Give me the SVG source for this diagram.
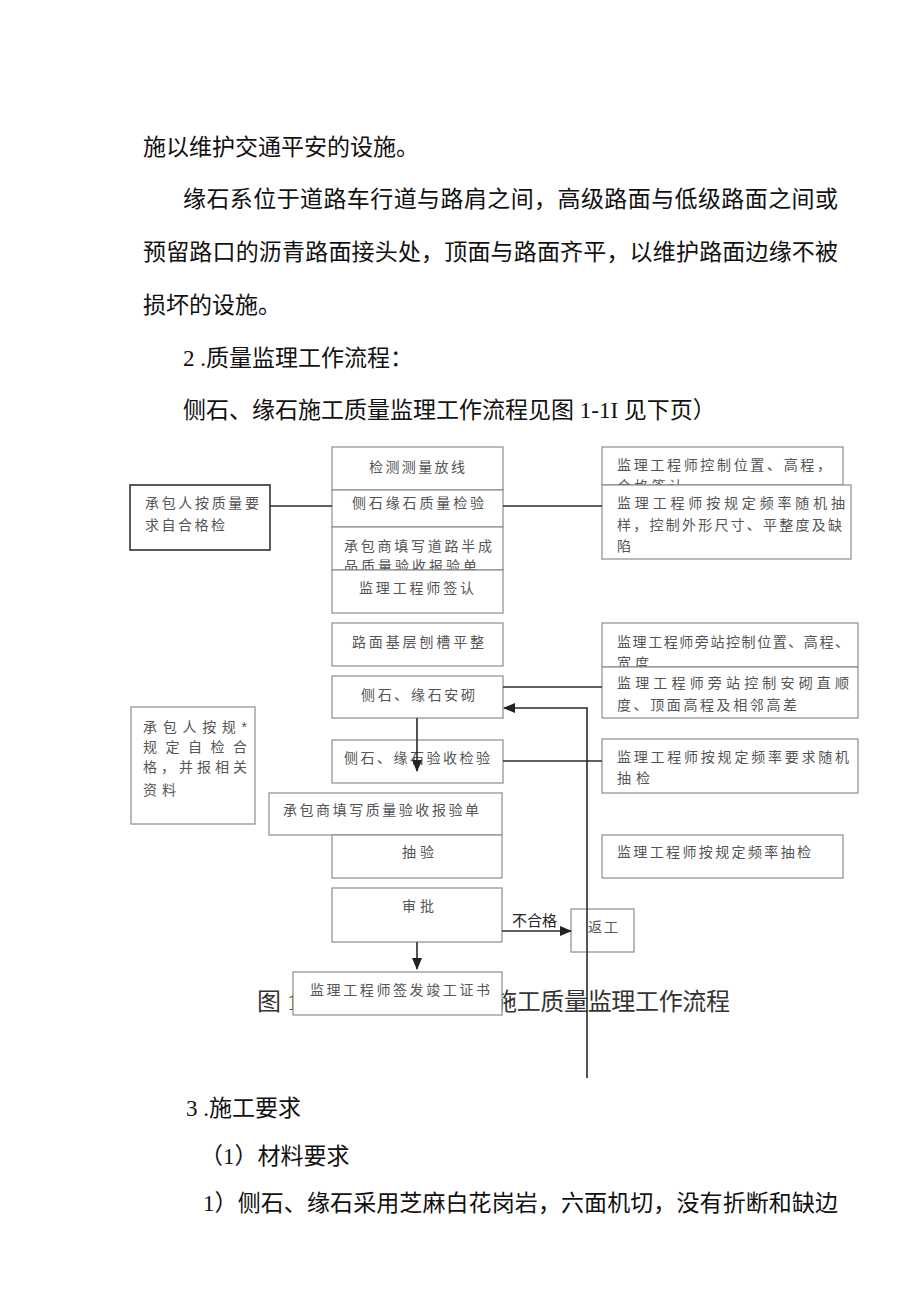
<svg xmlns="http://www.w3.org/2000/svg" width="920" height="1301" viewBox="0 0 920 1301">
<style>
.body{font-family:"Liberation Serif","Noto Sans CJK SC",serif;font-size:23px;fill:#111}
.box{fill:#fff;stroke:#8c8c8c;stroke-width:1.2}
.boxd{fill:#fff;stroke:#333;stroke-width:1.6}
.t{font-family:"Liberation Sans","Noto Sans CJK SC",sans-serif;font-size:14px;fill:#555}
.ln{stroke:#2a2a2a;stroke-width:1.6;fill:none}
.cap{font-family:"Liberation Serif","Noto Sans CJK SC",serif;font-size:24px;fill:#333}
.lbl{font-family:"Liberation Sans","Noto Sans CJK SC",sans-serif;font-size:15px;fill:#222}
</style>
<defs>
<marker id="ah" markerUnits="userSpaceOnUse" markerWidth="12" markerHeight="10" refX="11" refY="5" orient="auto">
<path d="M0,0 L12,5 L0,10 Z" fill="#222"/>
</marker>
</defs>
<rect width="920" height="1301" fill="#fff"/>

<g id="bodytext">
<text class="body" x="143" y="155">施以维护交通平安的设施。</text>
<text class="body" x="183" y="207" textLength="655" lengthAdjust="spacing">缘石系位于道路车行道与路肩之间，高级路面与低级路面之间或</text>
<text class="body" x="143" y="260" textLength="695" lengthAdjust="spacing">预留路口的沥青路面接头处，顶面与路面齐平，以维护路面边缘不被</text>
<text class="body" x="143" y="313">损坏的设施。</text>
<text class="body" x="183" y="366">2 .质量监理工作流程：</text>
<text class="body" x="183" y="418">侧石、缘石施工质量监理工作流程见图 1-1I 见下页）</text>
<text class="body" x="186" y="1116">3 .施工要求</text>
<text class="body" x="200" y="1164">（1）材料要求</text>
<text class="body" x="203" y="1211" textLength="635" lengthAdjust="spacing">1）侧石、缘石采用芝麻白花岗岩，六面机切，没有折断和缺边</text>
</g>

<g id="n1"><rect class="box" x="332" y="447" width="171" height="43"/><text class="t" x="369" y="472" textLength="96">检测测量放线</text></g>
<g id="n2"><rect class="box" x="332" y="490" width="171" height="37"/><text class="t" x="352" y="508" textLength="132">侧石缘石质量检验</text></g>
<g id="n3"><rect class="box" x="332" y="527" width="171" height="43"/><text class="t" x="344" y="551" textLength="148">承包商填写道路半成</text><text class="t" x="344" y="571" textLength="140">品质量验收报验单.</text></g>
<g id="n4"><rect class="box" x="332" y="570" width="171" height="43"/><text class="t" x="359" y="593" textLength="115">监理工程师签认</text></g>

<g id="r1"><rect class="box" x="602" y="447" width="241" height="38"/><text class="t" x="617" y="470" textLength="214">监理工程师控制位置、高程，</text><text class="t" x="617" y="491" textLength="66">合格签认</text></g>
<g id="r2"><rect class="box" x="602" y="485" width="249" height="74"/><text class="t" x="617" y="508" textLength="228">监理工程师按规定频率随机抽</text><text class="t" x="617" y="530" textLength="225">样，控制外形尺寸、平整度及缺</text><text class="t" x="617" y="551">陷</text></g>

<g id="L1"><rect class="boxd" x="130" y="485" width="140" height="65"/><text class="t" x="145" y="508" textLength="114">承包人按质量要</text><text class="t" x="145" y="530" textLength="80">求自合格检</text></g>

<g id="n5"><rect class="box" x="332" y="623" width="171" height="43"/><text class="t" x="352" y="647" textLength="132">路面基层刨槽平整</text></g>
<g id="n6"><rect class="box" x="332" y="676" width="171" height="42"/><text class="t" x="361" y="700" textLength="114">侧石、缘石安砌</text></g>
<g id="n7"><rect class="box" x="332" y="740" width="171" height="43"/><text class="t" x="344" y="763" textLength="146">侧石、缘石验收检验</text></g>

<g id="r3"><rect class="box" x="602" y="623" width="256" height="44"/><text class="t" x="617" y="647" textLength="232">监理工程师旁站控制位置、高程、</text><text class="t" x="617" y="668" textLength="32">宽度</text></g>
<g id="r4"><rect class="box" x="602" y="667" width="256" height="51"/><text class="t" x="617" y="688" textLength="232">监理工程师旁站控制安砌直顺</text><text class="t" x="617" y="710" textLength="180">度、顶面高程及相邻高差</text></g>
<g id="r5"><rect class="box" x="602" y="739" width="256" height="54"/><text class="t" x="617" y="762" textLength="232">监理工程师按规定频率要求随机</text><text class="t" x="617" y="783" textLength="33">抽检</text></g>

<g id="L2"><rect class="box" x="131" y="707" width="124" height="117"/><text class="t" x="143" y="732" textLength="104">承包人按规*</text><text class="t" x="143" y="752" textLength="104">规定自检合</text><text class="t" x="143" y="772" textLength="104">格，并报相关</text><text class="t" x="143" y="795" textLength="33">资料</text></g>

<g id="n8"><rect class="box" x="269" y="793" width="233" height="42"/><text class="t" x="283" y="815" textLength="196">承包商填写质量验收报验单</text></g>
<g id="n9"><rect class="box" x="332" y="835" width="170" height="43"/><text class="t" x="402" y="857" textLength="32">抽验</text></g>
<g id="r6"><rect class="box" x="602" y="835" width="241" height="43"/><text class="t" x="617" y="857" textLength="194">监理工程师按规定频率抽检</text></g>
<g id="n10"><rect class="box" x="332" y="888" width="170" height="54"/><text class="t" x="402" y="911" textLength="32">审批</text></g>
<g id="n11"><rect class="box" x="571" y="909" width="63" height="43"/><text class="t" x="588" y="932" textLength="30">返工</text></g>

<g id="caption">
<text class="cap" x="257" y="1010">图 1</text>
<text class="cap" x="493" y="1010" textLength="237" lengthAdjust="spacing">施工质量监理工作流程</text>
</g>
<g id="n12"><rect class="box" x="293" y="972" width="209" height="43"/><text class="t" x="310" y="995" textLength="180">监理工程师签发竣工证书</text></g>

<g id="connectors">
<line class="ln" x1="270" y1="506" x2="332" y2="506"/>
<line class="ln" x1="503" y1="506" x2="602" y2="506"/>
<line class="ln" x1="503" y1="687" x2="602" y2="687"/>
<polyline class="ln" points="587,1078 587,708 504,708" marker-end="url(#ah)"/>
<line class="ln" x1="417" y1="718" x2="417" y2="771" marker-end="url(#ah)"/>
<line class="ln" x1="503" y1="761" x2="602" y2="761"/>
<line class="ln" x1="502" y1="931" x2="571" y2="931" marker-end="url(#ah)"/>
<line class="ln" x1="417" y1="942" x2="417" y2="969" marker-end="url(#ah)"/>
<text class="lbl" x="512" y="926">不合格</text>
</g>
</svg>
